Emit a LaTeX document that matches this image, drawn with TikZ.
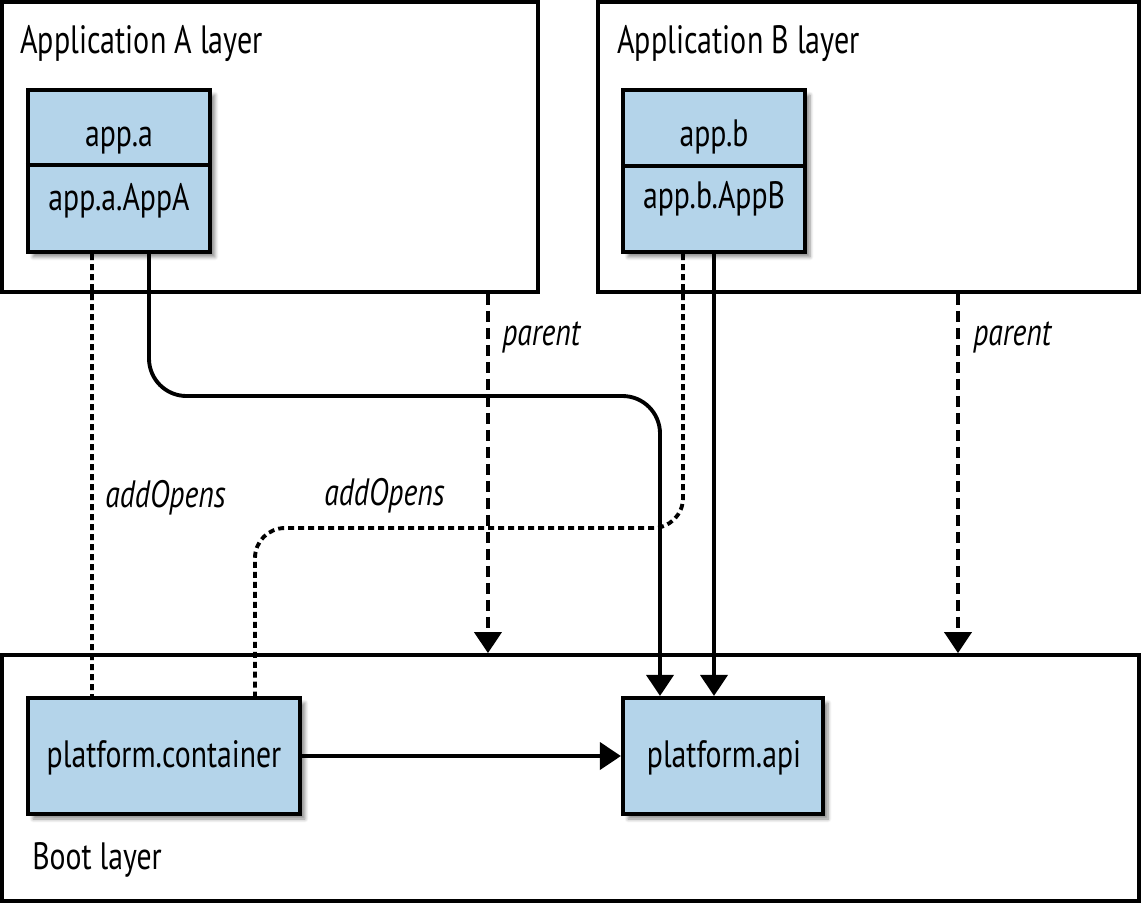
\documentclass[tikz,border=0pt]{standalone}
\usepackage{fontspec}
\setmainfont{PT Sans}[FakeStretch=0.78]
\newfontfamily\titlefont{PT Sans}[FakeStretch=0.76]
\usepackage{tikz}
\usetikzlibrary{arrows.meta, positioning, calc, shadows.blur}
\definecolor{ModBlue}{HTML}{B4D4EA}
\definecolor{InkBlack}{RGB}{0, 0, 0}

\tikzset{
  layerbox/.style={draw=InkBlack, line width=2.2pt, inner sep=0pt},
  module/.style={draw=InkBlack, line width=2.4pt, fill=ModBlue, inner sep=0pt,
    blur shadow={shadow xshift=0.1cm, shadow yshift=-0.1cm, shadow blur steps=6, shadow opacity=45}},
  link/.style={line width=2.2pt, -{Triangle[length=0.42cm, width=0.54cm]}},
  opens/.style={line width=2.2pt, dash pattern=on 0.12cm off 0.08cm},
  parentlink/.style={line width=2.2pt, dash pattern=on 0.22cm off 0.12cm, -{Triangle[length=0.42cm, width=0.54cm]}},
  layertitle/.style={font=\titlefont\fontsize{22.5}{27}\selectfont, anchor=base west, inner sep=0pt},
  modtext/.style={font=\fontsize{21.7}{26}\selectfont, anchor=base, inner sep=0pt},
  lbl/.style={font=\fontsize{21.7}{26}\selectfont\itshape, anchor=base west, inner sep=0pt}
}

\begin{document}
\begin{tikzpicture}[x=0.02cm, y=-0.02cm, >=Triangle]
  \useasboundingbox (0,0) rectangle (1141,904);

  % Layers
  \node[layerbox, minimum width=10.72cm, minimum height=5.8cm] (layerA) at (270,147) {};
  \node[layerbox, minimum width=10.82cm, minimum height=5.8cm] (layerB) at (868.5,147) {};
  \node[layerbox, minimum width=22.74cm, minimum height=4.92cm] (boot) at (570.5,778) {};
  \node[layertitle] (titleA) at (20,53) {Application A layer};
  \node[layertitle] (titleB) at (617,53) {Application B layer};
  \node[modtext, anchor=base west] (titleBoot) at (32,869) {Boot layer};

  % Modules
  \node[module, minimum width=3.64cm, minimum height=3.24cm] (appA) at (119,171) {};
  \draw[line width=2.4pt] ([yshift=0.12cm]appA.west) -- ([yshift=0.12cm]appA.east);
  \node[modtext] (headA) at (119,146) {app.a};
  \node[modtext] (classA) at (119,210) {app.a.AppA};

  \node[module, minimum width=3.64cm, minimum height=3.24cm] (appB) at (714,171) {};
  \draw[line width=2.4pt] ([yshift=0.1cm]appB.west) -- ([yshift=0.1cm]appB.east);
  \node[modtext] (headB) at (714,146) {app.b};
  \node[modtext] (classB) at (714,208) {app.b.AppB};

  \node[module, minimum width=5.44cm, minimum height=2.32cm] (container) at (164,756) {};
  \node[modtext] at (164,767) {platform.container};
  \node[module, minimum width=4cm, minimum height=2.32cm] (api) at (723,756) {};
  \node[modtext] at (724,767) {platform.api};

  % Connectors
  \coordinate (bendA) at (660,396);
  \coordinate (bendB) at (255,528);
  \coordinate (pA) at ([xshift=4.36cm]layerA.south);
  \coordinate (pB) at ([xshift=1.79cm]layerB.south);

  \draw[opens] ([xshift=-0.54cm]appA.south) -- ([xshift=-1.44cm]container.north);
  \draw[opens, rounded corners=0.6cm] ([xshift=-0.62cm]appB.south) |- (bendB) -- ([xshift=1.82cm]container.north);
  \draw[link, rounded corners=0.75cm] ([xshift=0.6cm]appA.south) |- (bendA) -- ([xshift=-1.26cm]api.north);
  \draw[link] (appB.south) -- (appB.south |- api.north);
  \draw[link] (container.east) -- (api.west);
  \draw[parentlink] (pA) -- (pA |- boot.north);
  \draw[parentlink] (pB) -- (pB |- boot.north);

  % Labels
  \node[lbl] (parentA) at (502,345) {parent};
  \node[lbl] (parentB) at (973,345) {parent};
  \node[lbl] (opensA) at (105,507) {addOpens};
  \node[lbl] (opensB) at (324,505) {addOpens};
\end{tikzpicture}
\end{document}
